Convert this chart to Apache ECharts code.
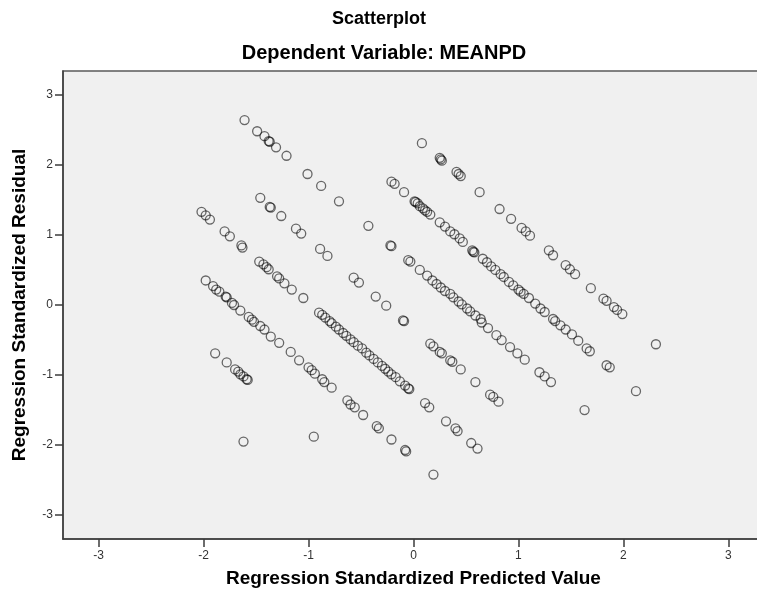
<!DOCTYPE html>
<html>
<head>
<meta charset="utf-8">
<script src="https://cdn.jsdelivr.net/npm/echarts@6/dist/echarts.min.js"></script>
<style>
html,body{margin:0;padding:0;background:#fff;}
#chart{width:757px;height:598px;}
</style>
</head>
<body>
<div id="chart"></div>
<script>
// Points: [predicted, residual], grouped by the diagonal band they sit on
var bandC = [[0.08,2.31],[0.25,2.10],[0.27,2.06],[0.26,2.08],[0.41,1.90],[0.45,1.84],[0.43,1.87],[0.63,1.61],[0.82,1.37],[0.93,1.23],[1.03,1.10],[1.07,1.05],[1.11,0.99],[1.29,0.78],[1.33,0.71],[1.45,0.57],[1.49,0.51],[1.54,0.44],[1.69,0.24],[1.81,0.09],[1.84,0.06],[1.91,-0.03],[1.94,-0.07],[1.99,-0.13],[2.31,-0.56]];
var bandB = [[-0.21,1.76],[-0.18,1.73],[-0.09,1.61],[0.02,1.47],[0.01,1.48],[0.04,1.45],[0.06,1.41],[0.09,1.38],[0.11,1.35],[0.13,1.33],[0.16,1.29],[0.25,1.18],[0.30,1.12],[0.35,1.05],[0.39,1.01],[0.44,0.95],[0.47,0.90],[0.56,0.78],[0.57,0.76],[0.58,0.75],[0.66,0.66],[0.70,0.61],[0.74,0.55],[0.78,0.50],[0.83,0.44],[0.86,0.40],[0.91,0.33],[0.95,0.28],[1.00,0.22],[1.02,0.19],[1.05,0.16],[1.10,0.10],[1.16,0.02],[1.21,-0.05],[1.25,-0.10],[1.33,-0.20],[1.35,-0.23],[1.40,-0.29],[1.45,-0.35],[1.51,-0.42],[1.57,-0.51],[1.65,-0.62],[1.68,-0.66],[1.84,-0.86],[1.87,-0.89],[2.12,-1.23]];
var bandA = [[-1.61,2.64],[-1.49,2.48],[-1.42,2.41],[-1.38,2.34],[-1.37,2.33],[-1.31,2.25],[-1.21,2.13],[-1.01,1.87],[-0.88,1.70],[-0.71,1.48],[-0.43,1.13],[-0.22,0.85],[-0.21,0.84],[-0.05,0.64],[-0.03,0.62],[0.06,0.50],[0.13,0.42],[0.18,0.35],[0.22,0.30],[0.26,0.25],[0.30,0.20],[0.35,0.16],[0.38,0.11],[0.43,0.05],[0.46,0.01],[0.51,-0.05],[0.54,-0.09],[0.59,-0.15],[0.64,-0.20],[0.65,-0.25],[0.71,-0.33],[0.79,-0.43],[0.84,-0.50],[0.92,-0.60],[0.99,-0.69],[1.06,-0.78],[1.20,-0.96],[1.25,-1.02],[1.31,-1.10],[1.63,-1.50]];
var bandI = [[-1.46,1.53],[-1.37,1.40],[-1.36,1.39],[-1.26,1.27],[-1.12,1.09],[-1.07,1.02],[-0.89,0.80],[-0.82,0.70],[-0.57,0.39],[-0.52,0.32],[-0.36,0.12],[-0.26,-0.01],[-0.10,-0.22],[-0.09,-0.23],[0.16,-0.55],[0.19,-0.59],[0.25,-0.67],[0.27,-0.69],[0.35,-0.79],[0.37,-0.81],[0.45,-0.92],[0.59,-1.10],[0.73,-1.28],[0.76,-1.31],[0.81,-1.38]];
var bandE = [[-2.02,1.33],[-1.98,1.28],[-1.94,1.22],[-1.80,1.05],[-1.75,0.98],[-1.64,0.85],[-1.63,0.82],[-1.47,0.62],[-1.43,0.58],[-1.40,0.54],[-1.38,0.51],[-1.30,0.41],[-1.28,0.38],[-1.23,0.31],[-1.16,0.22],[-1.05,0.10],[-0.90,-0.11],[-0.87,-0.14],[-0.84,-0.18],[-0.80,-0.23],[-0.78,-0.26],[-0.74,-0.31],[-0.71,-0.35],[-0.67,-0.40],[-0.64,-0.44],[-0.60,-0.49],[-0.57,-0.53],[-0.53,-0.58],[-0.49,-0.62],[-0.45,-0.68],[-0.42,-0.72],[-0.38,-0.77],[-0.34,-0.82],[-0.30,-0.87],[-0.27,-0.91],[-0.24,-0.95],[-0.21,-0.99],[-0.17,-1.03],[-0.13,-1.09],[-0.08,-1.15],[-0.05,-1.19],[-0.04,-1.20],[0.11,-1.40],[0.15,-1.46],[0.31,-1.66],[0.40,-1.76],[0.42,-1.80],[0.55,-1.97],[0.61,-2.05]];
var bandF = [[-1.98,0.35],[-1.91,0.27],[-1.88,0.22],[-1.85,0.19],[-1.79,0.12],[-1.78,0.11],[-1.73,0.03],[-1.71,0.00],[-1.65,-0.08],[-1.57,-0.17],[-1.54,-0.21],[-1.52,-0.24],[-1.46,-0.30],[-1.42,-0.35],[-1.36,-0.45],[-1.28,-0.54],[-1.17,-0.67],[-1.09,-0.79],[-1.00,-0.89],[-0.97,-0.93],[-0.94,-0.98],[-0.87,-1.06],[-0.85,-1.10],[-0.78,-1.18],[-0.63,-1.36],[-0.60,-1.42],[-0.56,-1.46],[-0.48,-1.57],[-0.35,-1.73],[-0.33,-1.76],[-0.21,-1.92],[-0.08,-2.07],[-0.07,-2.09],[0.19,-2.42]];
var bandG = [[-1.89,-0.69],[-1.78,-0.82],[-1.70,-0.92],[-1.67,-0.95],[-1.65,-0.99],[-1.62,-1.02],[-1.59,-1.06],[-1.58,-1.07],[-0.95,-1.88]];
var bandH = [[-1.62,-1.95]];

var tickValues = [-3, -2, -1, 0, 1, 2, 3];
var axisRange = [-3.34, 3.34];
var titleText = 'Scatterplot';
var subtitleText = 'Dependent Variable: MEANPD';
var xName = 'Regression Standardized Predicted Value';
var yName = 'Regression Standardized Residual';

var points = [].concat(bandC, bandB, bandA, bandI, bandE, bandF, bandG, bandH);

var FONT = '"Liberation Sans", Arial, sans-serif';
var chart = echarts.init(document.getElementById('chart'), null, {renderer: 'canvas'});
chart.setOption({
  animation: false,
  backgroundColor: '#ffffff',
  graphic: [
    {type: 'text', silent: true, z: 10,
     style: {text: titleText, x: 379, y: 19, textAlign: 'center', textVerticalAlign: 'middle',
             fontFamily: FONT, fontWeight: 'bold', fontSize: 18, fill: '#000'}},
    {type: 'text', silent: true, z: 10,
     style: {text: subtitleText, x: 384, y: 53, textAlign: 'center', textVerticalAlign: 'middle',
             fontFamily: FONT, fontWeight: 'bold', fontSize: 20, fill: '#000'}}
  ],
  grid: {
    left: 63, top: 71, width: 701, bottom: 59,
    outerBoundsMode: 'none', containLabel: false,
    show: true, backgroundColor: '#f0f0f0', borderColor: '#5a5a5a', borderWidth: 1.5
  },
  xAxis: {
    type: 'value', min: axisRange[0], max: axisRange[1],
    name: xName, nameLocation: 'middle', nameGap: 30,
    nameTextStyle: {fontFamily: FONT, fontWeight: 'bold', fontSize: 19, color: '#000', verticalAlign: 'top'},
    axisLine: {show: true, onZero: false, lineStyle: {color: '#3c3c3c', width: 1.5}},
    axisTick: {show: true, length: 8, customValues: tickValues, lineStyle: {color: '#3c3c3c', width: 1.5}},
    axisLabel: {customValues: tickValues, margin: 11, fontFamily: FONT, fontSize: 12, color: '#333'},
    splitLine: {show: false}
  },
  yAxis: {
    type: 'value', min: axisRange[0], max: axisRange[1],
    name: yName, nameLocation: 'middle', nameGap: 34, nameRotate: 90,
    nameTextStyle: {fontFamily: FONT, fontWeight: 'bold', fontSize: 19, color: '#000'},
    axisLine: {show: true, onZero: false, lineStyle: {color: '#3c3c3c', width: 1.5}},
    axisTick: {show: true, length: 8, customValues: tickValues, lineStyle: {color: '#3c3c3c', width: 1.5}},
    axisLabel: {customValues: tickValues, margin: 10, fontFamily: FONT, fontSize: 12, color: '#333'},
    splitLine: {show: false}
  },
  series: [{
    type: 'scatter',
    data: points,
    symbol: 'circle',
    symbolSize: 9,
    itemStyle: {color: 'rgba(0,0,0,0)', borderColor: 'rgba(0,0,0,0.72)', borderWidth: 1.3},
    emphasis: {disabled: true},
    clip: false
  }]
});
</script>
</body>
</html>
